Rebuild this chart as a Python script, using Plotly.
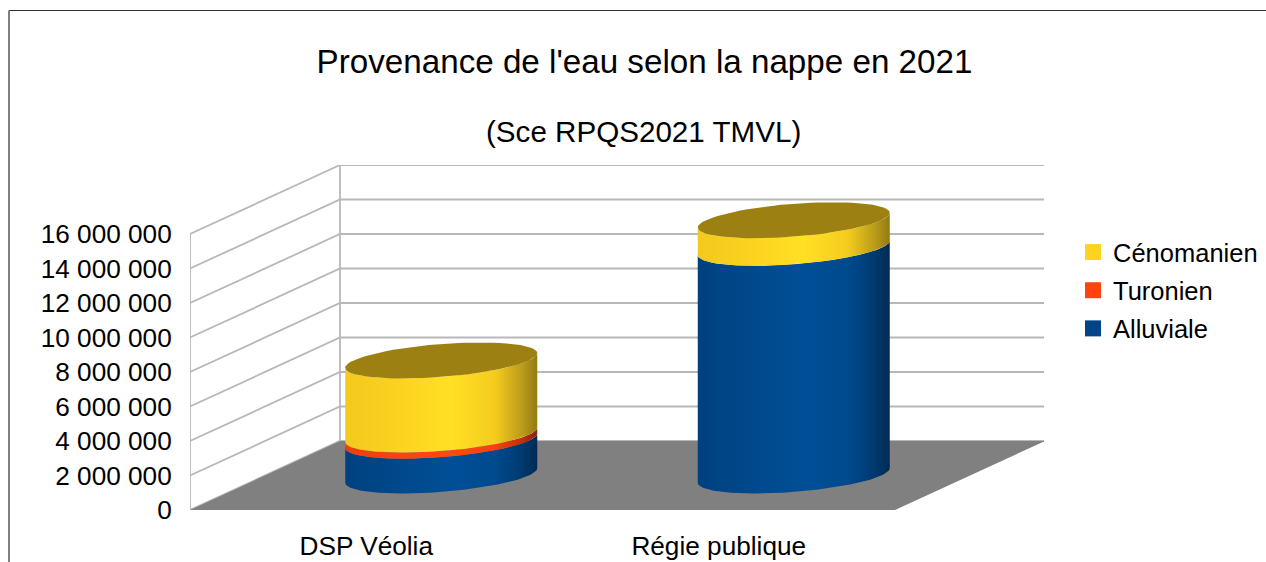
import math
import plotly.graph_objects as go

categories = ["DSP Véolia", "Régie publique"]
alluviale = [2020000, 13200000]
turonien = [350000, 0]
cenomanien = [4300000, 1600000]
tick_values = [0, 2000000, 4000000, 6000000, 8000000, 10000000, 12000000, 14000000, 16000000]
tick_labels = ["0", "2 000 000", "4 000 000", "6 000 000", "8 000 000", "10 000 000", "12 000 000", "14 000 000", "16 000 000"]
title_text = "Provenance de l'eau selon la nappe en 2021"
subtitle_text = "(Sce RPQS2021 TMVL)"

W, H = 1266, 562
L, R, T, B = 190, 1044, 165, 510
PX_X = 352.5            # pixels per category
PX_Y = 17.25 / 1e6      # pixels per unit of value
DX = 150 / PX_X         # wall depth, x units
DY = 69 / PX_Y          # wall depth, y units
N = len(categories)
FONT = "Liberation Sans"


def pap(px, py):
    return (px - L) / (R - L), (B - py) / (B - T)


fig = go.Figure()

# Walls and gridlines
gx, gy = [], []
for v in tick_values:
    gx += [0, DX, N + DX, None]
    gy += [v, v + DY, v + DY, None]
gx += [0, 0, None, DX, DX, None, N + DX, N + DX]
gy += [0, 16e6, None, DY, 16e6 + DY, None, DY, 16e6 + DY]
fig.add_trace(go.Scatter(x=gx, y=gy, mode="lines", line=dict(color="#b8b8b8", width=1.8), cliponaxis=False,
                         hoverinfo="skip", showlegend=False))
# Floor
fig.add_trace(go.Scatter(x=[0, N, N + DX, DX, 0], y=[0, 0, DY, DY, 0], mode="lines", fill="toself",
                         fillcolor="#808080", line=dict(width=0), hoverinfo="skip", showlegend=False))

series = [
    ("Alluviale", alluviale, "#004586", ["#00417f", "#00498c", "#004f96", "#004a8e", "#003a70", "#002a52"]),
    ("Turonien", turonien, "#ff420e", ["#f03c0c", "#ff420e", "#ff4a14", "#f8400e", "#c0300a", "#8f2408"]),
    ("Cénomanien", cenomanien, "#ffd320", ["#f2c91d", "#fdd320", "#ffe024", "#f5cc1e", "#bb9c1a", "#927a12"]),
]
stops = [0.0, 0.3, 0.55, 0.78, 0.92, 1.0]
TOP_COLOR = "#9c8011"

HALF_W = 96 / PX_X       # half silhouette width
SKEW = 39 / PX_X         # x shift from depth
DEPTH = 18 / PX_Y        # y shift from depth
RX = math.sqrt(HALF_W ** 2 - SKEW ** 2)
T0 = math.atan2(SKEW, RX)
STEPS = 80


def ring(cx, cy, t):
    return cx + RX * math.cos(t) + SKEW * math.sin(t), cy + DEPTH * math.sin(t)


def arc(cx, cy, a, b):
    pts = [ring(cx, cy, a + (b - a) * i / STEPS) for i in range(STEPS + 1)]
    return [p[0] for p in pts], [p[1] for p in pts]


for i in range(N):
    cx = i + 0.5 + DX / 2
    base = DY / 2
    total = 0
    for name, vals, col, grad in series:
        v = vals[i]
        if v <= 0:
            continue
        x1, y1 = arc(cx, base + total, T0 + math.pi, T0 + 2 * math.pi)
        x2, y2 = arc(cx, base + total + v, T0 + 2 * math.pi, T0 + math.pi)
        fig.add_trace(go.Scatter(
            x=x1 + x2 + [x1[0]], y=y1 + y2 + [y1[0]], mode="lines", fill="toself",
            line=dict(width=0), hoverinfo="skip", showlegend=False,
            fillgradient=dict(type="horizontal", start=cx - HALF_W, stop=cx + HALF_W,
                              colorscale=[[s, c] for s, c in zip(stops, grad)]),
        ))
        total += v
    x3, y3 = arc(cx, base + total, 0, 2 * math.pi)
    fig.add_trace(go.Scatter(x=x3, y=y3, mode="lines", fill="toself", fillcolor=TOP_COLOR,
                             line=dict(width=0), hoverinfo="skip", showlegend=False))

# Legend entries
for name, vals, col, grad in reversed(series):
    fig.add_trace(go.Scatter(x=[None], y=[None], mode="markers", name=name, legendgroup=name,
                             marker=dict(symbol="square", size=16, color=col)))

fx, fy = pap(9, 10.5)
fig.update_layout(
    width=W, height=H, autosize=False,
    margin=dict(l=L, r=W - R, t=T, b=H - B, pad=0, autoexpand=False),
    paper_bgcolor="white", plot_bgcolor="white",
    font=dict(family=FONT, color="#000000", size=25),
    title=dict(text=title_text, x=644.5 / W, xanchor="center", y=1 - 61 / H, yanchor="middle",
               xref="container", yref="container", font=dict(size=33.2, family=FONT), pad=dict(t=0, b=0, l=0, r=0)),
    xaxis=dict(range=[0, (R - L) / PX_X], tickvals=[i + 0.5 for i in range(N)], ticktext=categories,
               showgrid=False, zeroline=False, showline=False, ticks="outside", ticklen=13,
               tickcolor="rgba(0,0,0,0)", tickfont=dict(size=26.2, family=FONT), fixedrange=True),
    yaxis=dict(range=[0, (B - T) / PX_Y], tickvals=tick_values, ticktext=tick_labels,
               showgrid=False, zeroline=False, showline=False, ticks="outside", ticklen=12,
               tickcolor="rgba(0,0,0,0)", tickfont=dict(size=26.2, family=FONT), fixedrange=True),
    legend=dict(x=pap(1073, 0)[0], xanchor="left", y=pap(0, 229)[1], yanchor="top",
                font=dict(size=25.5, family=FONT), bgcolor="rgba(0,0,0,0)", borderwidth=0,
                traceorder="grouped", tracegroupgap=2, itemclick=False, itemdoubleclick=False),
    shapes=[
        dict(type="line", xref="paper", yref="paper", x0=fx, x1=pap(W, 0)[0], y0=fy, y1=fy,
             line=dict(color="#333333", width=1)),
        dict(type="line", xref="paper", yref="paper", x0=fx, x1=fx, y0=fy, y1=pap(0, H)[1],
             line=dict(color="#808080", width=2)),
    ],
    annotations=[
        dict(text=subtitle_text, xref="paper", yref="paper", x=pap(643, 0)[0], y=pap(0, 131)[1],
             xanchor="center", yanchor="middle", showarrow=False, font=dict(size=29.6, family=FONT)),
    ],
)
fig.write_html("out.html", config={"displayModeBar": False},
               post_script="document.body.style.margin='0';document.documentElement.style.overflow='hidden';")
